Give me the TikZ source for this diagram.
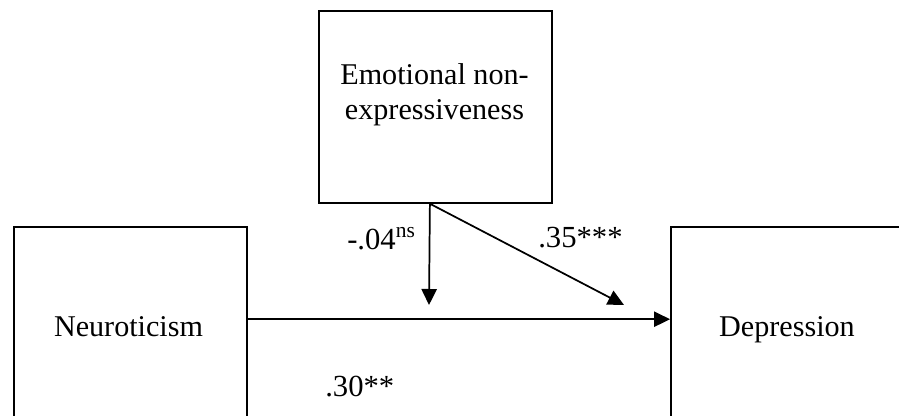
\documentclass[tikz,border=0pt]{standalone}
\usepackage{fontspec}
\setmainfont{Liberation Serif}
\usetikzlibrary{arrows.meta}

\begin{document}
\begin{tikzpicture}[x=0.75pt, y=-0.75pt,
      var/.style={draw, line width=1.3pt, inner sep=0pt,
                  minimum width=174.75pt, minimum height=144pt},
      txt/.style={font=\fontsize{22.6}{26.25}\selectfont, align=center, inner sep=0pt},
      coef/.style={font=\fontsize{23}{26.25}\selectfont, inner sep=0pt, anchor=base west},
      arr/.style={-{Triangle[length=12pt, width=11.5pt]}, line width=1.3pt}
  ]
    \useasboundingbox (0,0) rectangle (899,416);
    % boxes
    \node[var, anchor=north west] (emo) at (318,10) {};
    \node[var, anchor=north west, minimum height=146pt] (neu) at (13,226) {};
    \node[var, anchor=north west, minimum height=146pt] (dep) at (670,226) {};
    \node[txt] (emotxt) at (434.5,95) {Emotional non-\\expressiveness};
    \node[txt, anchor=base] (neutxt) at (128.5,337) {Neuroticism};
    \node[txt, anchor=base] (deptxt) at (787,337) {Depression};
    % paths
    \coordinate (split) at ([xshift=-4.1pt]emo.south);
    \coordinate (modtip) at (429,305);
    \coordinate (dirtip) at (624,305);
    \draw[arr] ([yshift=3.75pt]neu.east) -- ([yshift=3.75pt]dep.west);
    \draw[arr] (split) -- (modtip);
    \draw[arr] (split) -- (dirtip);
    % coefficients
    \node[coef] (cmod) at (347,250) {-.04\textsuperscript{ns}};
    \node[coef] (cdir) at (538,248) {.35***};
    \node[coef] (cneu) at (325,397) {.30**};
  \end{tikzpicture}
\end{document}
